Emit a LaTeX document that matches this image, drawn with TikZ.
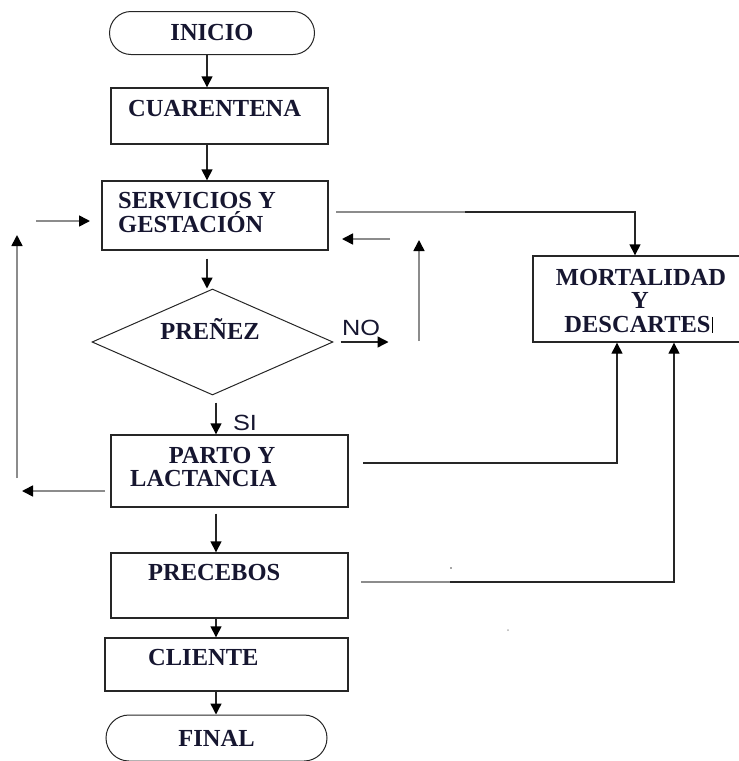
\documentclass[tikz,border=0pt]{standalone}
\usepackage{fontspec}
\setmainfont{Liberation Serif}
\newfontfamily\arialf[FakeStretch=1.15]{Liberation Sans}
\usetikzlibrary{arrows.meta,shapes.geometric,shapes.misc}
\definecolor{txtc}{HTML}{161630}
\definecolor{linec}{HTML}{262626}
\definecolor{grayc}{HTML}{8C8C8C}
\begin{document}
\begin{tikzpicture}[x=1pt,y=-1pt,
  box/.style={draw=linec,line width=1.4pt,rectangle,inner sep=0pt},
  term/.style={draw=linec,line width=1pt,rounded rectangle,inner sep=0pt,
    font=\bfseries\fontsize{24.5}{28}\selectfont,text=txtc},
  dia/.style={draw=linec,line width=1pt,diamond,inner sep=0pt},
  txt/.style={inner sep=0pt,text height=16pt,text depth=0pt,
    font=\bfseries\fontsize{24.5}{28}\selectfont,text=txtc},
  lab/.style={inner sep=0pt,text height=16pt,text depth=0pt,
    font=\arialf\fontsize{22}{26}\selectfont,text=txtc},
  tipa/.style={-{Triangle[length=11pt,width=11pt,color=black]}},
  arr/.style={draw=linec,line width=1.4pt,tipa},
  garr/.style={draw=grayc,line width=1.6pt,tipa},
  gline/.style={draw=grayc,line width=1.6pt}
]
\useasboundingbox (0,0) rectangle (739,761);

% nodes
\node[term,minimum width=205pt,minimum height=43pt] (inicio) at (212,33) {INICIO};
\node[box,minimum width=217pt,minimum height=56pt] (cuar) at (219.5,116) {};
\node[txt,anchor=west] (tcuar) at (128,108) {CUARENTENA};
\node[box,minimum width=226pt,minimum height=69pt] (serv) at (215,215.5) {};
\node[txt,anchor=west] (tserv1) at (118,200) {SERVICIOS Y};
\node[txt,anchor=west] (tserv2) at (118,224) {GESTACIÓN};
\node[dia,minimum width=241pt,minimum height=106pt] (pren) at (212.5,342) {};
\node[txt] (tpren) at (210,331) {PREÑEZ};
\node[lab] (no) at (361,327) {NO};
\node[lab] (si) at (245,422) {SI};
\node[box,minimum width=237pt,minimum height=72pt] (parto) at (229.5,471) {};
\node[txt] (tparto1) at (222,455) {PARTO Y};
\node[txt,anchor=west] (tparto2) at (130,478) {LACTANCIA};
\node[box,minimum width=214pt,minimum height=86pt] (mort) at (640,299) {};
\node[txt] (tm1) at (641,277) {MORTALIDAD};
\node[txt] (tm2) at (640,300) {Y};
\node[txt] (tm3) at (637.5,324) {DESCARTES};
\node[box,minimum width=237pt,minimum height=65pt] (prec) at (229.5,585.5) {};
\node[txt,anchor=west] (tprec) at (148,572) {PRECEBOS};
\node[box,minimum width=243pt,minimum height=53pt] (cli) at (226.5,664.5) {};
\node[txt,anchor=west] (tcli) at (148,657) {CLIENTE};
\node[term,minimum width=221pt,minimum height=46pt] (final) at (216.5,738) {FINAL};

% cursor mark after DESCARTES
\draw[line width=1pt,black] ([xshift=1.5pt]tm3.east) ++(0,-7) -- ++(0,16);
% small dots
\fill[black!70] (451,568) circle (0.9pt);
\fill[black!30] (508,630) circle (1pt);

% axes
\coordinate (ax1) at (207,0);
\coordinate (ax2) at (216,0);

% main flow
\draw[arr] (ax1 |- inicio.south) -- (ax1 |- cuar.north);
\draw[arr] (ax1 |- cuar.south) -- (ax1 |- serv.north);
\draw[arr,shorten <=8pt] (ax1 |- serv.south) -- (ax1 |- pren.north);
\draw[arr,shorten <=7pt] (ax2 |- pren.south) -- (ax2 |- parto.north);
\draw[arr,shorten <=6pt] (ax2 |- parto.south) -- (ax2 |- prec.north);
\draw[arr] (ax2 |- prec.south) -- (ax2 |- cli.north);
\draw[arr] (ax2 |- cli.south) -- (ax2 |- final.north);

% NO arrow
\draw[arr] ([xshift=7pt]pren.east) -- ([xshift=55pt]pren.east);

% servicios -> mortalidad
\coordinate (sm) at (336,212);
\coordinate (sm2) at (465,212);
\draw[gline] (sm) -- (sm2);
\draw[arr] (sm2) -| ([xshift=-5pt]mort.north);

% return arrows to servicios
\coordinate (r1) at (390,239);
\coordinate (r2) at (342,239);
\draw[garr] (r1) -- (r2);
\coordinate (u1) at (419,341);
\coordinate (u2) at (419,240);
\draw[garr] (u1) -- (u2);
\coordinate (l1) at (36,221);
\coordinate (l2) at (90,221);
\draw[garr] (l1) -- (l2);
\coordinate (pl0) at (105,491);
\coordinate (pl1) at (22,491);
\draw[garr] (pl0) -- (pl1);
\coordinate (v1) at (17,478);
\coordinate (v2) at (17,235);
\draw[garr] (v1) -- (v2);

% parto -> mortalidad
\coordinate (pm) at (363,463);
\draw[arr] (pm) -| ([xshift=-23pt]mort.south);

% precebos -> mortalidad
\coordinate (qm) at (361,582);
\coordinate (qm2) at (450,582);
\draw[gline] (qm) -- (qm2);
\draw[arr] (qm2) -| ([xshift=34pt]mort.south);
\end{tikzpicture}
\end{document}
